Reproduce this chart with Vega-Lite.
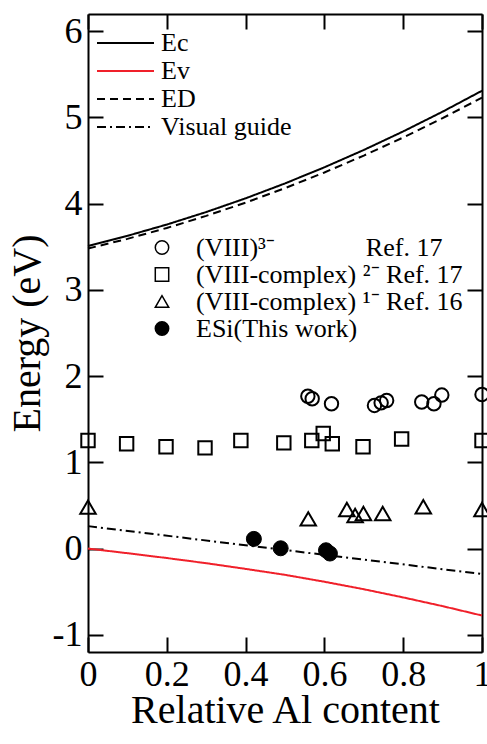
{
  "$schema": "https://vega.github.io/schema/vega-lite/v6.json",
  "autosize": "none",
  "width": 394,
  "height": 638,
  "padding": {"left": 88, "top": 14, "right": 5, "bottom": 92},
  "background": "white",
  "config": {
    "view": {"stroke": null},
    "font": "Liberation Serif",
    "axis": {
      "domainColor": "black", "domainWidth": 2,
      "tickColor": "black", "tickWidth": 2, "tickSize": -15,
      "labelFont": "Liberation Serif", "labelFontSize": 36, "labelColor": "black",
      "labelFlush": false, "labelOverlap": false,
      "titleFont": "Liberation Serif", "titleFontSize": 40, "titleFontWeight": "normal", "titleColor": "black",
      "grid": false
    },
    "legend": {
      "labelFont": "Liberation Serif", "labelFontSize": 26, "labelColor": "black", "labelLimit": 400,
      "padding": 0, "rowPadding": 0
    }
  },
  "datasets": {
    "lines": [
      {"x": 0, "y": 3.51, "s": "Ec"}, {"x": 0.1, "y": 3.627, "s": "Ec"}, {"x": 0.2, "y": 3.758, "s": "Ec"},
      {"x": 0.3, "y": 3.903, "s": "Ec"}, {"x": 0.4, "y": 4.062, "s": "Ec"}, {"x": 0.5, "y": 4.235, "s": "Ec"},
      {"x": 0.6, "y": 4.422, "s": "Ec"}, {"x": 0.7, "y": 4.623, "s": "Ec"}, {"x": 0.8, "y": 4.838, "s": "Ec"},
      {"x": 0.9, "y": 5.067, "s": "Ec"}, {"x": 1, "y": 5.31, "s": "Ec"},
      {"x": 0, "y": 0, "s": "Ev"}, {"x": 0.1, "y": -0.054, "s": "Ev"}, {"x": 0.2, "y": -0.11, "s": "Ev"},
      {"x": 0.3, "y": -0.17, "s": "Ev"}, {"x": 0.4, "y": -0.236, "s": "Ev"}, {"x": 0.5, "y": -0.305, "s": "Ev"},
      {"x": 0.6, "y": -0.385, "s": "Ev"}, {"x": 0.7, "y": -0.472, "s": "Ev"}, {"x": 0.8, "y": -0.567, "s": "Ev"},
      {"x": 0.9, "y": -0.668, "s": "Ev"}, {"x": 1, "y": -0.777, "s": "Ev"},
      {"x": 0, "y": 3.48, "s": "ED"}, {"x": 0.1, "y": 3.592, "s": "ED"}, {"x": 0.2, "y": 3.718, "s": "ED"},
      {"x": 0.3, "y": 3.858, "s": "ED"}, {"x": 0.4, "y": 4.012, "s": "ED"}, {"x": 0.5, "y": 4.18, "s": "ED"},
      {"x": 0.6, "y": 4.362, "s": "ED"}, {"x": 0.7, "y": 4.558, "s": "ED"}, {"x": 0.8, "y": 4.768, "s": "ED"},
      {"x": 0.9, "y": 4.992, "s": "ED"}, {"x": 1, "y": 5.23, "s": "ED"},
      {"x": 0, "y": 0.26, "s": "Visual guide"}, {"x": 1, "y": -0.295, "s": "Visual guide"}
    ],
    "points": [
      {"x": 0.558, "y": 1.767, "s": "(VIII)\u00b3\u207b\u00a0\u00a0\u00a0\u00a0\u00a0\u00a0\u00a0\u00a0\u00a0\u00a0\u00a0\u00a0\u00a0\u00a0Ref. 17"},
      {"x": 0.569, "y": 1.737, "s": "(VIII)\u00b3\u207b\u00a0\u00a0\u00a0\u00a0\u00a0\u00a0\u00a0\u00a0\u00a0\u00a0\u00a0\u00a0\u00a0\u00a0Ref. 17"},
      {"x": 0.618, "y": 1.68, "s": "(VIII)\u00b3\u207b\u00a0\u00a0\u00a0\u00a0\u00a0\u00a0\u00a0\u00a0\u00a0\u00a0\u00a0\u00a0\u00a0\u00a0Ref. 17"},
      {"x": 0.727, "y": 1.66, "s": "(VIII)\u00b3\u207b\u00a0\u00a0\u00a0\u00a0\u00a0\u00a0\u00a0\u00a0\u00a0\u00a0\u00a0\u00a0\u00a0\u00a0Ref. 17"},
      {"x": 0.744, "y": 1.69, "s": "(VIII)\u00b3\u207b\u00a0\u00a0\u00a0\u00a0\u00a0\u00a0\u00a0\u00a0\u00a0\u00a0\u00a0\u00a0\u00a0\u00a0Ref. 17"},
      {"x": 0.758, "y": 1.717, "s": "(VIII)\u00b3\u207b\u00a0\u00a0\u00a0\u00a0\u00a0\u00a0\u00a0\u00a0\u00a0\u00a0\u00a0\u00a0\u00a0\u00a0Ref. 17"},
      {"x": 0.847, "y": 1.7, "s": "(VIII)\u00b3\u207b\u00a0\u00a0\u00a0\u00a0\u00a0\u00a0\u00a0\u00a0\u00a0\u00a0\u00a0\u00a0\u00a0\u00a0Ref. 17"},
      {"x": 0.878, "y": 1.68, "s": "(VIII)\u00b3\u207b\u00a0\u00a0\u00a0\u00a0\u00a0\u00a0\u00a0\u00a0\u00a0\u00a0\u00a0\u00a0\u00a0\u00a0Ref. 17"},
      {"x": 0.898, "y": 1.78, "s": "(VIII)\u00b3\u207b\u00a0\u00a0\u00a0\u00a0\u00a0\u00a0\u00a0\u00a0\u00a0\u00a0\u00a0\u00a0\u00a0\u00a0Ref. 17"},
      {"x": 1.0, "y": 1.787, "s": "(VIII)\u00b3\u207b\u00a0\u00a0\u00a0\u00a0\u00a0\u00a0\u00a0\u00a0\u00a0\u00a0\u00a0\u00a0\u00a0\u00a0Ref. 17"},
      {"x": 0, "y": 1.253, "s": "(VIII-complex)\u00a0\u00b2\u207b\u00a0Ref. 17"},
      {"x": 0.098, "y": 1.215, "s": "(VIII-complex)\u00a0\u00b2\u207b\u00a0Ref. 17"},
      {"x": 0.198, "y": 1.18, "s": "(VIII-complex)\u00a0\u00b2\u207b\u00a0Ref. 17"},
      {"x": 0.297, "y": 1.168, "s": "(VIII-complex)\u00a0\u00b2\u207b\u00a0Ref. 17"},
      {"x": 0.388, "y": 1.253, "s": "(VIII-complex)\u00a0\u00b2\u207b\u00a0Ref. 17"},
      {"x": 0.497, "y": 1.226, "s": "(VIII-complex)\u00a0\u00b2\u207b\u00a0Ref. 17"},
      {"x": 0.568, "y": 1.253, "s": "(VIII-complex)\u00a0\u00b2\u207b\u00a0Ref. 17"},
      {"x": 0.597, "y": 1.334, "s": "(VIII-complex)\u00a0\u00b2\u207b\u00a0Ref. 17"},
      {"x": 0.62, "y": 1.215, "s": "(VIII-complex)\u00a0\u00b2\u207b\u00a0Ref. 17"},
      {"x": 0.698, "y": 1.18, "s": "(VIII-complex)\u00a0\u00b2\u207b\u00a0Ref. 17"},
      {"x": 0.796, "y": 1.27, "s": "(VIII-complex)\u00a0\u00b2\u207b\u00a0Ref. 17"},
      {"x": 1.0, "y": 1.253, "s": "(VIII-complex)\u00a0\u00b2\u207b\u00a0Ref. 17"},
      {"x": 0, "y": 0.48, "s": "(VIII-complex)\u00a0\u00b9\u207b\u00a0Ref. 16"},
      {"x": 0.559, "y": 0.344, "s": "(VIII-complex)\u00a0\u00b9\u207b\u00a0Ref. 16"},
      {"x": 0.657, "y": 0.452, "s": "(VIII-complex)\u00a0\u00b9\u207b\u00a0Ref. 16"},
      {"x": 0.678, "y": 0.383, "s": "(VIII-complex)\u00a0\u00b9\u207b\u00a0Ref. 16"},
      {"x": 0.699, "y": 0.406, "s": "(VIII-complex)\u00a0\u00b9\u207b\u00a0Ref. 16"},
      {"x": 0.748, "y": 0.406, "s": "(VIII-complex)\u00a0\u00b9\u207b\u00a0Ref. 16"},
      {"x": 0.851, "y": 0.484, "s": "(VIII-complex)\u00a0\u00b9\u207b\u00a0Ref. 16"},
      {"x": 1.0, "y": 0.452, "s": "(VIII-complex)\u00a0\u00b9\u207b\u00a0Ref. 16"},
      {"x": 0.421, "y": 0.112, "s": "ESi(This work)"},
      {"x": 0.489, "y": 0.003, "s": "ESi(This work)"},
      {"x": 0.604, "y": -0.02, "s": "ESi(This work)"},
      {"x": 0.614, "y": -0.058, "s": "ESi(This work)"}
    ]
  },
  "layer": [
    {
      "layer": [
        {
          "data": {"name": "lines"},
          "mark": {"type": "line", "strokeWidth": 2},
          "encoding": {
            "x": {"field": "x", "type": "quantitative",
                  "scale": {"domain": [0, 1], "nice": false, "zero": false},
                  "axis": {"orient": "bottom", "values": [0, 0.2, 0.4, 0.6, 0.8, 1], "labelExpr": "'' + datum.value", "title": "Relative Al content", "labelPadding": 20, "titlePadding": -2}},
            "y": {"field": "y", "type": "quantitative",
                  "scale": {"domain": [-1.2, 6.2], "nice": false, "zero": false},
                  "axis": {"orient": "left", "values": [-1, 0, 1, 2, 3, 4, 5, 6], "labelExpr": "'' + datum.value", "title": "Energy (eV)", "labelPadding": 21, "titlePadding": 5}},
            "color": {"field": "s", "type": "nominal",
                      "scale": {"domain": ["Ec", "Ev", "ED", "Visual guide"], "range": ["black", "#f0202a", "black", "black"]},
                      "legend": {"title": null, "orient": "none", "legendX": 8, "legendY": 15, "symbolType": "stroke", "symbolSize": 3249, "symbolStrokeWidth": 2, "clipHeight": 28, "labelOffset": 6}},
            "strokeDash": {"field": "s", "type": "nominal",
                           "scale": {"domain": ["Ec", "Ev", "ED", "Visual guide"], "range": [[1, 0], [1, 0], [8, 5], [9, 4, 2, 4]]},
                           "legend": {"title": null, "orient": "none", "legendX": 8, "legendY": 15, "symbolType": "stroke", "symbolSize": 3249, "symbolStrokeWidth": 2, "clipHeight": 28, "labelOffset": 6}}
          }
        },
        {
          "data": {"name": "points"},
          "transform": [{"filter": "indexof(datum.s, 'ESi') < 0 && indexof(datum.s, 'Ref. 16') < 0"}],
          "mark": {"type": "point", "filled": true, "stroke": "black", "strokeWidth": 2, "size": 180, "opacity": 1},
          "encoding": {
            "x": {"field": "x", "type": "quantitative"},
            "y": {"field": "y", "type": "quantitative"},
            "shape": {"field": "s", "type": "nominal",
                      "scale": {"domain": ["(VIII)\u00b3\u207b\u00a0\u00a0\u00a0\u00a0\u00a0\u00a0\u00a0\u00a0\u00a0\u00a0\u00a0\u00a0\u00a0\u00a0Ref. 17", "(VIII-complex)\u00a0\u00b2\u207b\u00a0Ref. 17", "(VIII-complex)\u00a0\u00b9\u207b\u00a0Ref. 16", "ESi(This work)"], "range": ["circle", "square", "triangle-up", "circle"]},
                      "legend": {"title": null, "orient": "none", "legendX": 61, "legendY": 220, "symbolSize": 180, "clipHeight": 27, "labelOffset": 21,
                                 "encode": {"symbols": {"update": {"stroke": {"value": "black"}, "strokeWidth": {"value": 2}, "opacity": {"value": 1}}}}}},
            "fill": {"field": "s", "type": "nominal",
                     "scale": {"domain": ["(VIII)\u00b3\u207b\u00a0\u00a0\u00a0\u00a0\u00a0\u00a0\u00a0\u00a0\u00a0\u00a0\u00a0\u00a0\u00a0\u00a0Ref. 17", "(VIII-complex)\u00a0\u00b2\u207b\u00a0Ref. 17", "(VIII-complex)\u00a0\u00b9\u207b\u00a0Ref. 16", "ESi(This work)"], "range": ["transparent", "transparent", "transparent", "black"]},
                     "legend": {"title": null, "orient": "none", "legendX": 61, "legendY": 220, "symbolSize": 180, "clipHeight": 27, "labelOffset": 21,
                                "encode": {"symbols": {"update": {"stroke": {"value": "black"}, "strokeWidth": {"value": 2}, "opacity": {"value": 1}}}}}}
          }
        },
        {
          "data": {"name": "points"},
          "transform": [{"filter": "indexof(datum.s, 'Ref. 16') >= 0"}],
          "mark": {"type": "point", "filled": true, "stroke": "black", "strokeWidth": 2, "size": 240, "opacity": 1},
          "encoding": {
            "x": {"field": "x", "type": "quantitative"},
            "y": {"field": "y", "type": "quantitative"},
            "shape": {"field": "s", "type": "nominal"},
            "fill": {"field": "s", "type": "nominal"}
          }
        },
        {
          "data": {"name": "points"},
          "transform": [{"filter": "indexof(datum.s, 'ESi') >= 0"}],
          "mark": {"type": "point", "filled": true, "stroke": "black", "strokeWidth": 1, "size": 225, "opacity": 1},
          "encoding": {
            "x": {"field": "x", "type": "quantitative"},
            "y": {"field": "y", "type": "quantitative"},
            "shape": {"field": "s", "type": "nominal"},
            "fill": {"field": "s", "type": "nominal"}
          }
        }
      ]
    },
    {
      "data": {"name": "lines"},
      "mark": {"type": "point", "opacity": 0},
      "encoding": {
        "x": {"field": "x", "type": "quantitative",
              "axis": {"orient": "top", "values": [0, 0.2, 0.4, 0.6, 0.8, 1], "labels": false, "title": null}},
        "y": {"field": "y", "type": "quantitative",
              "axis": {"orient": "right", "values": [-1, 0, 1, 2, 3, 4, 5, 6], "labels": false, "title": null}}
      }
    }
  ],
  "resolve": {"axis": {"x": "independent", "y": "independent"}}
}
